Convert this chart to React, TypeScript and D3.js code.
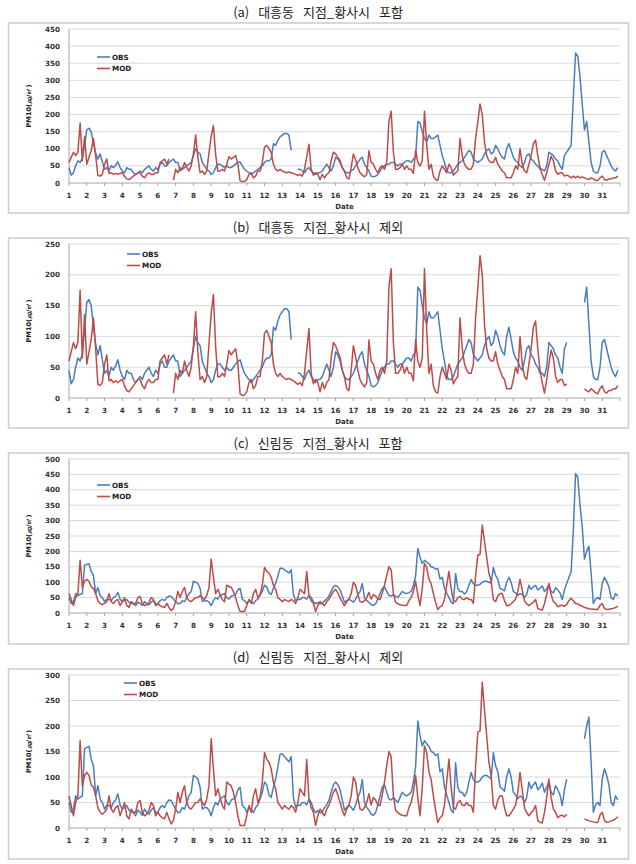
import React from 'react';
import * as d3 from 'd3';

// 3-hourly samples (8 per day), day 1.000 .. 31.875 ; one row per day
const DAY_LABELS = d3.range(1, 32).map(String);
const PER_DAY = 8;

const DAEHEUNG_OBS: (number | null)[] = [
  45, 23, 30, 50, 65, 60, 72, 110,
  155, 160, 150, 115, 88, 70, 85, 62,
  40, 45, 35, 50, 45, 52, 62, 45,
  35, 30, 45, 40, 40, 30, 25, 30,
  35, 30, 40, 45, 50, 40, 35, 45,
  40, 55, 60, 50, 50, 60, 65, 70,
  60, 60, 35, 40, 45, 50, 55, 60,
  80, 100, 90, 85, 60, 50, 40, 35,
  25, 30, 45, 55, 55, 50, 45, 50,
  45, 45, 50, 55, 60, 62, 50, 40,
  35, 30, 25, 30, 35, 40, 45, 50,
  60, 65, 65, 70, 115, 110, 125, 135,
  140, 145, 145, 140, 95, null, null, 40,
  40, 35, 30, 40, 45, 35, 30, 25,
  30, 30, 35, 45, 55, 45, 35, 50,
  75, 70, 60, 45, 35, 30, 30, 35,
  40, 50, 60, 70, 75, 55, 45, 35,
  20, 18, 20, 25, 35, 45, 50, 55,
  55, 60, 60, 55, 50, 55, 55, 60,
  65, 65, 60, 70, 75, 180, 175, 150,
  130, 120, 140, 130, 130, 135, 140, 110,
  80, 60, 35, 30, 30, 35, 45, 55,
  60, 65, 75, 85, 95, 90, 70, 65,
  60, 65, 70, 85, 95, 100, 85, 90,
  110, 100, 85, 75, 70, 100, 115, 95,
  75, 65, 60, 50, 45, 60, 80, 85,
  70, 65, 55, 50, 40, 40, 35, 50,
  90, 85, 80, 70, 65, 50, 40, 80,
  90, 100, 110, 250, 380, 370, 310, 230,
  155, 180, 120, 60, 35, 30, 30, 50,
  90, 95, 80, 65, 50, 40, 35, 45,
];

const DAEHEUNG_MOD: (number | null)[] = [
  60, 75, 90, 80, 90, 175, 65, 135,
  55, 75, 95, 130, 80, 22, 20, 25,
  55, 70, 28, 30, 25, 28, 25, 28,
  30, 20, 12, 10, 15, 20, 25, 30,
  30, 20, 15, 25, 30, 25, 25, 30,
  30, 60, 65, 70, 55, 70, null, 8,
  40, 30, 45, 40, 60, 45, 35, 50,
  85, 140, 75, 30, 35, 25, 35, 88,
  137, 168, 83, 34, 35, 40, 35, 55,
  77, 70, 75, 80, 56, 7, 4, 5,
  10, 25, 30, 15, 20, 35, 35, 60,
  105, 110, 100, 90, 55, 40, 35, 40,
  35, 32, 30, 32, 30, 28, 25, 22,
  25, 20, 40, 77, 113, 40, 23, 30,
  25, 10, 25, 15, 25, 30, 65, 90,
  85, 75, 66, 45, 34, 15, 12, 45,
  85, 67, 45, 30, 23, 18, 25, 94,
  60, 55, 40, 30, 45, 50, 40, 60,
  180, 210, 90, 40, 40, 45, 55, 40,
  50, 40, 40, 28, 95, 60, 50, 65,
  210, 110, 40, 55, 20, 10, 8, 35,
  50, 40, 30, 55, 45, 23, 30, 35,
  130, 80, 55, 45, 40, 40, 55, 130,
  178, 231, 200, 120, 80, 65, 60, 60,
  75, 55, 45, 35, 30, 15, 15, 15,
  30, 50, 40, 100, 55, 35, 30, 55,
  80, 115, 125, 80, 45, 25, 8, 30,
  55, 78, 65, 35, 25, 30, 30, 20,
  23, 20, 15, 20, 15, 20, 15, 18,
  15, 12, 10, 15, 12, 8, 7, 15,
  20, 10, 8, 12, 12, 15, 15, 20,
];

const SILLIM_OBS: (number | null)[] = [
  50, 31, 37, 63, 57, 60, 63, 155,
  158, 160, 135, 122, 63, 83, 57, 50,
  37, 45, 44, 40, 50, 55, 67, 45,
  37, 40, 44, 35, 31, 30, 24, 35,
  31, 25, 37, 30, 27, 35, 40, 30,
  31, 40, 44, 40, 50, 55, 54, 45,
  37, 30, 31, 40, 37, 50, 63, 70,
  103, 100, 96, 80, 37, 40, 40, 35,
  24, 40, 50, 45, 57, 60, 63, 50,
  45, 55, 57, 60, 75, 80, 44, 40,
  31, 40, 37, 30, 40, 45, 57, 70,
  90, 85, 65, 60, 80, 96, 120, 145,
  145, 140, 135, 130, 140, 60, 40, 45,
  44, 50, 50, 45, 57, 50, 37, 30,
  34, 30, 31, 40, 45, 55, 70, 85,
  90, 85, 75, 55, 35, 40, 45, 40,
  35, 45, 60, 70, 95, 50, 40, 35,
  27, 25, 30, 45, 63, 80, 85, 70,
  57, 55, 60, 55, 50, 60, 70, 65,
  63, 66, 70, 90, 120, 210, 181, 161,
  171, 165, 160, 150, 148, 142, 145, 110,
  116, 80, 65, 50, 35, 30, 128, 80,
  70, 70, 62, 70, 90, 109, 95, 90,
  90, 93, 100, 103, 103, 100, 96, 148,
  122, 110, 80, 77, 72, 100, 116, 100,
  70, 65, 57, 63, 60, 50, 60, 90,
  77, 85, 90, 75, 80, 88, 70, 80,
  90, 70, 65, 83, 75, 65, 44, 75,
  96, 115, 134, 270, 453, 440, 350, 280,
  175, 200, 217, 129, 31, 45, 50, 44,
  96, 116, 103, 85, 50, 44, 63, 55,
];

const SILLIM_MOD: (number | null)[] = [
  63, 44, 24, 50, 63, 171, 83, 103,
  109, 103, 85, 80, 63, 40, 31, 27,
  31, 37, 63, 37, 31, 40, 44, 24,
  37, 50, 24, 18, 37, 31, 31, 50,
  54, 30, 24, 27, 35, 50, 44, 24,
  31, 24, 20, 18, 31, 18, 8, 15,
  37, 70, 50, 70, 83, 50, 40, 37,
  44, 50, 50, 57, 50, 44, 57, 83,
  175, 116, 63, 77, 60, 44, 37, 90,
  86, 83, 70, 50, 24, 5, 5, 5,
  24, 44, 31, 63, 77, 50, 60, 90,
  148, 135, 129, 116, 90, 77, 50, 44,
  37, 44, 40, 37, 44, 40, 31, 50,
  77, 70, 63, 135, 57, 40, 31, 5,
  24, 37, 30, 24, 37, 45, 57, 70,
  77, 65, 50, 35, 24, 37, 45, 63,
  100, 90, 60, 37, 35, 40, 50, 67,
  45, 60, 55, 45, 44, 65, 90, 122,
  150, 140, 63, 35, 30, 27, 25, 24,
  24, 40, 50, 70, 103, 60, 24, 80,
  161, 148, 110, 95, 63, 35, 11, 20,
  24, 45, 90, 135, 80, 40, 37, 50,
  54, 45, 44, 50, 44, 44, 31, 120,
  188, 190, 286, 233, 181, 129, 103, 44,
  37, 55, 63, 63, 40, 24, 24, 30,
  37, 45, 70, 109, 75, 40, 30, 24,
  30, 35, 44, 15, 11, 10, 30, 60,
  96, 60, 37, 31, 20, 24, 25, 22,
  27, 40, 48, 40, 31, 30, 25, 22,
  18, 16, 14, 13, 12, 11, 11, 25,
  31, 15, 11, 12, 14, 15, 18, 22,
];

const SERIES_NAMES = ['OBS', 'MOD'];
const COLORS = ['#4a7ebb', '#be4b48'];

const PANELS = [
  { title: '(a) 대흥동 지점_황사시 포함', obs: DAEHEUNG_OBS, mod: DAEHEUNG_MOD, yMax: 450, exclude: false,
    titleY: 17, frameTop: 23, frameBottom: 213, plotTop: 29, plotBottom: 183, labelY: 198, dateY: 209, legX: 97, legY: 57 },
  { title: '(b) 대흥동 지점_황사시 제외', obs: DAEHEUNG_OBS, mod: DAEHEUNG_MOD, yMax: 250, exclude: true,
    titleY: 232, frameTop: 238, frameBottom: 428, plotTop: 244, plotBottom: 398, labelY: 413, dateY: 424, legX: 127, legY: 254 },
  { title: '(c) 신림동 지점_황사시 포함', obs: SILLIM_OBS, mod: SILLIM_MOD, yMax: 500, exclude: false,
    titleY: 448, frameTop: 453, frameBottom: 644, plotTop: 459, plotBottom: 613, labelY: 628, dateY: 639, legX: 97, legY: 485 },
  { title: '(d) 신림동 지점_황사시 제외', obs: SILLIM_OBS, mod: SILLIM_MOD, yMax: 300, exclude: true,
    titleY: 662, frameTop: 669, frameBottom: 859, plotTop: 675, plotBottom: 828, labelY: 843, dateY: 854, legX: 124, legY: 683 },
];

const X_LEFT = 69;
const X_RIGHT = 620;
const FONT = '"DejaVu Sans", Verdana, sans-serif';

function Panel({ p }: { p: typeof PANELS[number] }) {
  const x = d3.scaleLinear().domain([1, 32]).range([X_LEFT, X_RIGHT]);
  const y = d3.scaleLinear().domain([0, p.yMax]).range([p.plotBottom, p.plotTop]);
  const ticks = d3.range(0, p.yMax + 1, 50);
  const dayOf = (i: number) => 1 + i / PER_DAY;
  const filt = (arr: (number | null)[]) =>
    arr.map((v, i) => (p.exclude && dayOf(i) > 29 && dayOf(i) < 30 ? null : v));
  const line = d3
    .line<number | null>()
    .defined((v) => v != null)
    .x((_, i) => x(dayOf(i)))
    .y((v) => y(v as number));
  const series = [filt(p.obs), filt(p.mod)];
  const yMid = (p.plotTop + p.plotBottom) / 2;
  return (
    <g>
      <text x={318} y={p.titleY} textAnchor="middle" fontFamily='"Noto Sans CJK KR", sans-serif'
        fontSize={13} wordSpacing={6} fill="#222">{p.title}</text>
      <rect x={8.5} y={p.frameTop} width={620} height={p.frameBottom - p.frameTop}
        fill="#fff" stroke="#cfcfcf" strokeWidth={1.6} />
      {ticks.map((t) => (
        <g key={t}>
          {t > 0 && (
            <line x1={X_LEFT} x2={X_RIGHT} y1={y(t)} y2={y(t)} stroke="#d9d9d9" strokeWidth={1} />
          )}
          <text x={60} y={y(t) + 2.6} textAnchor="end" fontFamily={FONT} fontWeight="bold"
            fontSize={7.2} fill="#333">{t}</text>
        </g>
      ))}
      <line x1={X_LEFT} x2={X_LEFT} y1={p.plotTop} y2={p.plotBottom} stroke="#a6a6a6" />
      <line x1={X_LEFT} x2={X_RIGHT} y1={p.plotBottom} y2={p.plotBottom} stroke="#a6a6a6" />
      {DAY_LABELS.map((lab, i) => (
        <g key={lab}>
          <line x1={x(i + 1)} x2={x(i + 1)} y1={p.plotBottom} y2={p.plotBottom + 3} stroke="#a6a6a6" />
          <text x={x(i + 1)} y={p.labelY} textAnchor="middle" fontFamily={FONT} fontWeight="bold"
            fontSize={7.2} fill="#333">{lab}</text>
        </g>
      ))}
      <line x1={X_RIGHT} x2={X_RIGHT} y1={p.plotBottom} y2={p.plotBottom + 3} stroke="#a6a6a6" />
      <text x={(X_LEFT + X_RIGHT) / 2} y={p.dateY} textAnchor="middle" fontFamily={FONT}
        fontWeight="bold" fontSize={7} fill="#333">Date</text>
      <text transform={`translate(31,${yMid}) rotate(-90)`} textAnchor="middle" fontFamily={FONT}
        fontWeight="bold" fontSize={6.6} fill="#222">PM10(㎍/㎥)</text>
      {series.map((s, k) => (
        <path key={k} d={line(s) || ''} fill="none" stroke={COLORS[k]} strokeWidth={1.5}
          strokeLinejoin="round" />
      ))}
      {SERIES_NAMES.map((n, k) => (
        <g key={n}>
          <line x1={p.legX} x2={p.legX + 13} y1={p.legY + k * 11.5} y2={p.legY + k * 11.5}
            stroke={COLORS[k]} strokeWidth={1.6} />
          <text x={p.legX + 15} y={p.legY + k * 11.5 + 2.7} fontFamily={FONT} fontWeight="bold"
            fontSize={7.2} fill="#222">{n}</text>
        </g>
      ))}
    </g>
  );
}

export default function App() {
  return (
    <svg width={636} height={864} style={{ position: 'absolute', left: 0, top: 0, background: '#fff' }}>
      <rect width={636} height={864} fill="#fff" />
      {PANELS.map((p) => (
        <Panel key={p.title} p={p} />
      ))}
    </svg>
  );
}
